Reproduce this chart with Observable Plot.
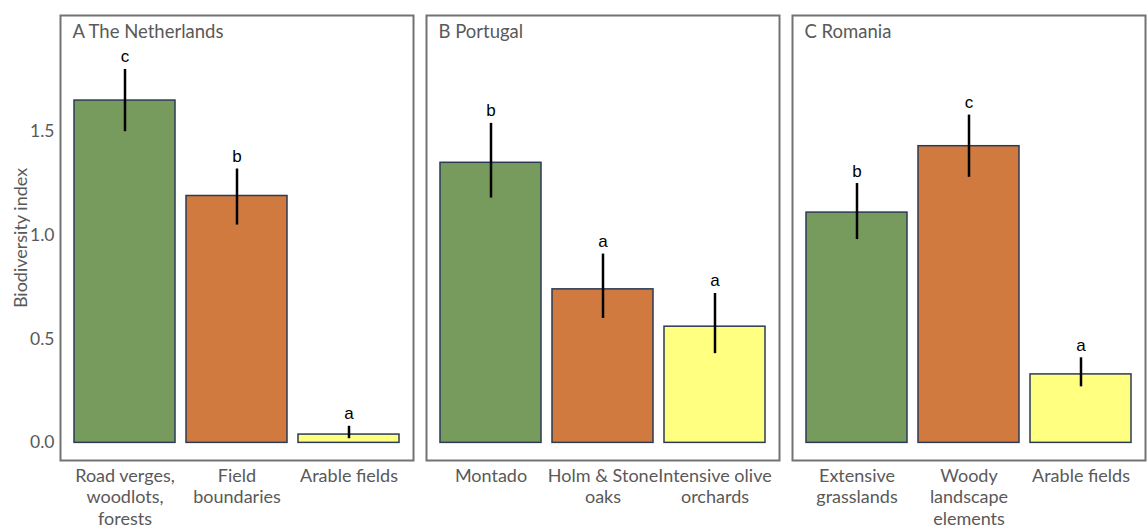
<!DOCTYPE html>
<html>
<head>
<meta charset="utf-8">
<script src="https://cdn.jsdelivr.net/npm/d3@7"></script>
<script src="https://cdn.jsdelivr.net/npm/@observablehq/plot@0.6"></script>
<style>
  body { margin: 0; background: #fff; }
</style>
</head>
<body>
<div id="chart"></div>
<script>
// Panels (one per country)
const panels = ["A The Netherlands", "B Portugal", "C Romania"];

// Habitat categories, in plotting order within each panel
const panelOf = [0, 0, 0, 1, 1, 1, 2, 2, 2];
const slotOf  = [0, 1, 2, 0, 1, 2, 0, 1, 2];
const habitats = [
  "Road verges,\nwoodlots,\nforests", "Field\nboundaries", "Arable fields",
  "Montado", "Holm & Stone\noaks", "Intensive olive\norchards",
  "Extensive\ngrasslands", "Woody\nlandscape\nelements", "Arable fields"
];

// Mean biodiversity index with error-bar limits
const means = [1.65, 1.19, 0.04, 1.35, 0.74, 0.56, 1.11, 1.43, 0.33];
const lower = [1.50, 1.05, 0.02, 1.18, 0.60, 0.43, 0.98, 1.28, 0.27];
const upper = [1.80, 1.32, 0.08, 1.54, 0.91, 0.72, 1.25, 1.58, 0.41];

// Significance group letters
const letters = ["c", "b", "a", "b", "a", "a", "b", "c", "a"];

// Fill per position within panel
const fills = ["#779b5c", "#d07a40", "#ffff80"];

const rows = habitats.map((label, i) => ({
  panel: panels[panelOf[i]],
  slot: slotOf[i],
  label,
  mean: means[i],
  lower: lower[i],
  upper: upper[i],
  letter: letters[i]
}));

const textGrey = "#595959";

const chart = Plot.plot({
  width: 1147,
  height: 532,
  marginLeft: 59,
  marginRight: 1,
  marginTop: 15,
  marginBottom: 72,
  style: {fontFamily: "Lato, sans-serif", fontSize: "17.5px", color: textGrey, background: "#fff"},
  fx: {domain: panels, paddingInner: 0.035, paddingOuter: 0, axis: null, label: null},
  x: {type: "band", domain: [0, 1, 2], paddingInner: 0.1, paddingOuter: 0.12, axis: null},
  y: {
    domain: [-0.085, 2.06],
    ticks: [0, 0.5, 1, 1.5],
    tickFormat: d3.format(".1f"),
    tickSize: 0,
    tickPadding: 6,
    label: null
  },
  color: {type: "ordinal", domain: [0, 1, 2], range: fills},
  marks: [
    // panel borders
    Plot.frame({stroke: "#727272", strokeWidth: 2}),
    // mean bars
    Plot.barY(rows, {fx: "panel", x: "slot", y1: 0, y2: "mean", fill: "slot", stroke: "#2c3a56", strokeWidth: 1.5}),
    // error bars
    Plot.ruleX(rows, {fx: "panel", x: "slot", y1: "lower", y2: "upper", stroke: "#000", strokeWidth: 2.5}),
    // group letters above the error bars
    Plot.text(rows, {
      fx: "panel", x: "slot", y: "upper", text: "letter",
      lineAnchor: "bottom", dy: -7,
      fontFamily: "'Liberation Sans', Arial, sans-serif", fontSize: 17, fill: "#000"
    }),
    // habitat names under each bar
    Plot.text(rows, {
      fx: "panel", x: "slot", text: "label",
      frameAnchor: "bottom", lineAnchor: "top", dy: 6, lineHeight: 1.2,
      fontSize: 18, fill: textGrey
    }),
    // panel titles
    Plot.text(panels, {
      fx: d => d, text: d => d,
      frameAnchor: "top-left", textAnchor: "start", lineAnchor: "top",
      dx: 12, dy: 9, fontSize: 18.5, fill: textGrey
    }),
    // y-axis title, left panel only
    Plot.text([panels[0]], {
      fx: d => d, text: () => "Biodiversity index",
      frameAnchor: "left", textAnchor: "middle", rotate: -90, dx: -39,
      fontSize: 18, fill: textGrey
    })
  ]
});

document.getElementById("chart").append(chart);
</script>
</body>
</html>
